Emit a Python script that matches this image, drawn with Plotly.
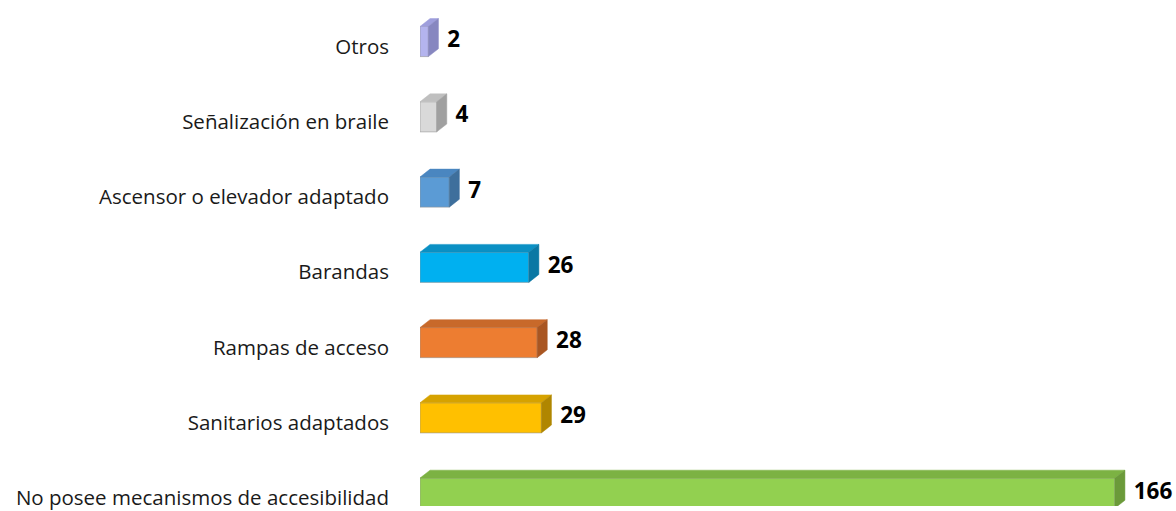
import plotly.graph_objects as go

categorias = ["No posee mecanismos de accesibilidad", "Sanitarios adaptados", "Rampas de acceso",
              "Barandas", "Ascensor o elevador adaptado", "Señalización en braile", "Otros"]
valores = [166, 29, 28, 26, 7, 4, 2]

# front / top / side shades of each box
colores = ["#92d050", "#ffc000", "#ed7d31", "#00b0f0", "#5b9bd5", "#d9d9d9", "#b4b4ee"]
colores_arriba = ["#7cb243", "#d6a200", "#c8692a", "#0a90c4", "#4a86c0", "#bfbfbf", "#9e9edc"]
colores_lado = ["#6b9a3a", "#b08600", "#a95622", "#0a78a4", "#3e6f9c", "#a0a0a0", "#8787c0"]

pos = list(range(len(categorias)))
ancho = 0.4
dx = 2.4     # depth of the 3D look, in x units
dy = 0.105   # depth in category units

fig = go.Figure()

# front faces
fig.add_trace(go.Bar(
    y=pos, x=valores, orientation='h', width=ancho,
    marker=dict(color=colores, line=dict(color='rgba(150,150,150,0.6)', width=1)),
    hoverinfo='skip', showlegend=False))

# top and side faces of each box, built from its value
for p, v, ca, cl in zip(pos, valores, colores_arriba, colores_lado):
    top = p + ancho / 2
    bot = p - ancho / 2
    fig.add_trace(go.Scatter(
        x=[0, dx, v + dx, v, 0], y=[top, top + dy, top + dy, top, top],
        fill='toself', fillcolor=ca, mode='lines', line=dict(width=0.5, color=ca),
        hoverinfo='skip', showlegend=False))
    fig.add_trace(go.Scatter(
        x=[v, v + dx, v + dx, v, v], y=[top, top + dy, bot + dy, bot, top],
        fill='toself', fillcolor=cl, mode='lines', line=dict(width=0.5, color=cl),
        hoverinfo='skip', showlegend=False))

# value labels
fig.add_trace(go.Scatter(
    y=pos, x=[v + 4.5 for v in valores], mode='text',
    text=[str(v) for v in valores], textposition='middle right',
    textfont=dict(family='Open Sans', size=22.5, color='#000000', weight='bold'),
    hoverinfo='skip', showlegend=False))

fig.update_layout(
    width=1176, height=511,
    margin=dict(l=420, r=0, t=0, b=0),
    paper_bgcolor='white', plot_bgcolor='white',
    barmode='overlay',
    font=dict(family='Open Sans', size=20.5, color='#1a1a1a'),
    xaxis=dict(range=[0, 180.6], visible=False, showgrid=False, zeroline=False),
    yaxis=dict(range=[-0.171, 6.552], tickmode='array',
               tickvals=[p - 0.066 for p in pos], ticktext=categorias,
               showgrid=False, zeroline=False, showline=False, ticks='',
               ticklabelstandoff=30, ticklabeloverflow='allow'),
)

# drop the browser's default body margin so the figure fills the window
fig.write_html("out.html", config={'displayModeBar': False},
               post_script="document.body.style.margin = '0px';")
